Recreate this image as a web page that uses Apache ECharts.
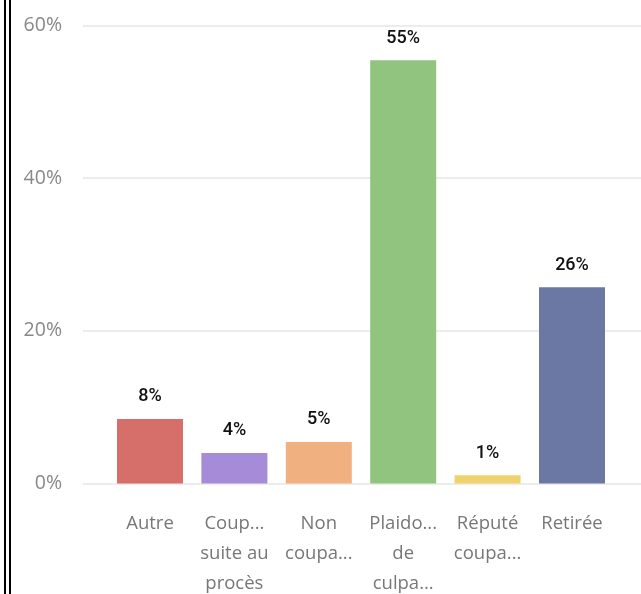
<!DOCTYPE html>
<html><head><meta charset="utf-8">
<script src="https://cdn.jsdelivr.net/npm/echarts@6/dist/echarts.min.js"></script>
<style>html,body{margin:0;padding:0;background:#fff}#c{width:641px;height:594px}</style>
</head><body><div id="c"></div>
<script>
const categories = ["Autre", "Coup...\nsuite au\nprocès", "Non\ncoupa...", "Plaido...\nde\nculpa...", "Réputé\ncoupa...", "Retirée"];
const values = [8.45, 4.0, 5.44, 55.45, 1.07, 25.7];
const colors = ["#D66F69", "#A68BD9", "#F0B080", "#91C57F", "#F0D26C", "#6B78A3"];
const yTicks = [0, 20, 40, 60];

const chart = echarts.init(document.getElementById('c'), null, {renderer: 'canvas'});
const gridTop = 25.5, gridBottom = 594 - 483.5;
chart.setOption({
  animation: false,
  backgroundColor: '#fff',
  grid: [
    {left: 83, right: 0, top: gridTop, bottom: gridBottom, containLabel: false, outerBoundsMode: 'none'},
    {left: 107.8, right: 26.8, top: gridTop, bottom: gridBottom, containLabel: false, outerBoundsMode: 'none'}
  ],
  xAxis: [
    {gridIndex: 0, type: 'value', show: false, min: 0, max: 1},
    {gridIndex: 1, type: 'category', data: categories,
     axisLine: {show: false}, axisTick: {show: false},
     axisLabel: {interval: 0, margin: 25, color: '#777', fontFamily: 'Open Sans', fontSize: 18.5, lineHeight: 30, align: 'center'}}
  ],
  yAxis: [
    {gridIndex: 0, type: 'value', min: yTicks[0], max: yTicks[yTicks.length-1], interval: 20,
     axisLine: {show: false}, axisTick: {show: false},
     axisLabel: {margin: 21, color: '#888', fontFamily: 'Open Sans', fontSize: 19.5, formatter: v => v + '%'},
     splitLine: {lineStyle: {color: '#e6e6e6', width: 1.5}}},
    {gridIndex: 1, type: 'value', min: yTicks[0], max: yTicks[yTicks.length-1], interval: 20, show: false, splitLine: {show: false}}
  ],
  graphic: [
    {type: 'rect', shape: {x: 4, y: 0, width: 2, height: 594}, style: {fill: '#000'}},
    {type: 'rect', shape: {x: 9, y: 0, width: 2, height: 594}, style: {fill: '#000'}}
  ],
  series: [{
    type: 'bar', xAxisIndex: 1, yAxisIndex: 1,
    data: values.map((v, i) => ({value: v, itemStyle: {color: colors[i]}})),
    barCategoryGap: '21.8%',
    label: {show: true, position: 'top', distance: 13, color: '#111', fontFamily: 'Roboto', fontWeight: 500, fontSize: 18,
            formatter: p => Math.round(p.value) + '%'}
  }]
});
</script></body></html>
